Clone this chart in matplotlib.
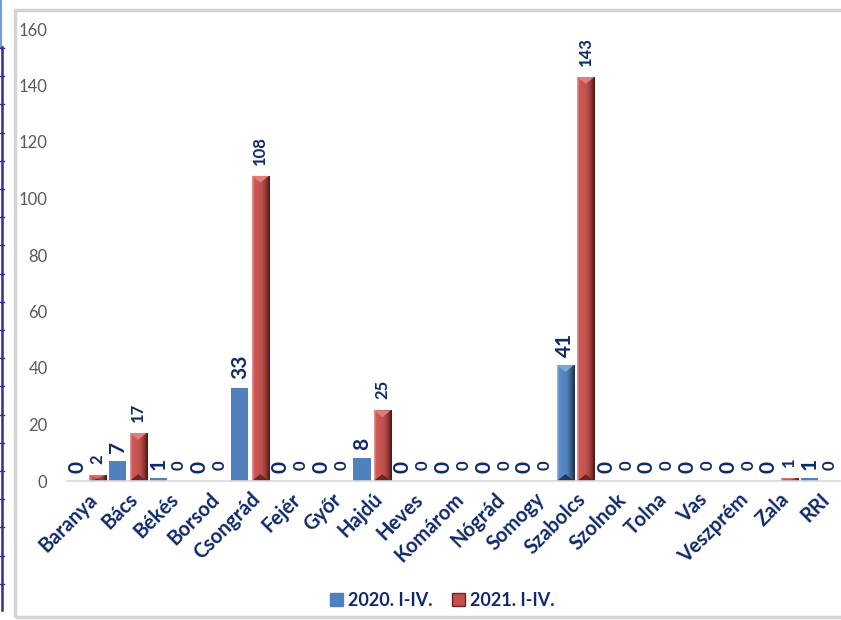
import numpy as np
import matplotlib.pyplot as plt
from matplotlib.colors import LinearSegmentedColormap
from matplotlib.patches import Polygon, Rectangle
from matplotlib.lines import Line2D

plt.rcParams['font.family'] = ['Lato', 'DejaVu Sans']

regions = ['Baranya', 'Bács', 'Békés', 'Borsod', 'Csongrád', 'Fejér', 'Győr',
           'Hajdú', 'Heves', 'Komárom', 'Nógrád', 'Somogy', 'Szabolcs',
           'Szolnok', 'Tolna', 'Vas', 'Veszprém', 'Zala', 'RRI']
y2020 = [0, 7, 1, 0, 33, 0, 0, 8, 0, 0, 0, 0, 41, 0, 0, 0, 0, 0, 1]
y2021 = [2, 17, 0, 0, 108, 0, 0, 25, 0, 0, 0, 0, 143, 0, 0, 0, 0, 1, 0]
series = ['2020. I-IV.', '2021. I-IV.']
yticks = [0, 20, 40, 60, 80, 100, 120, 140, 160]

NAVY = '#0F2A6B'
BLUE = '#4F81BD'
RED = '#C0504D'

red_cm = LinearSegmentedColormap.from_list('red3d', [
    (0, '#E6A09E'), (0.12, '#CD5955'), (0.55, '#C0504D'),
    (0.8, '#8E3533'), (1, '#4A1615')])
blue_cm = LinearSegmentedColormap.from_list('blue3d', [
    (0, '#9DBBE2'), (0.12, '#5A8BC7'), (0.55, '#4F81BD'),
    (0.8, '#35587F'), (1, '#1B2D44')])


def bevel(ax, bar, cmap, light, dark):
    """gradient + top/bottom triangles to fake the excel bevel"""
    h = bar.get_height()
    if h <= 0:
        return
    x0, w = bar.get_x(), bar.get_width()
    grad = np.linspace(0, 1, 64).reshape(1, -1)
    im = ax.imshow(grad, extent=(x0, x0 + w, 0, h), aspect='auto',
                   cmap=cmap, zorder=2.1)
    im.set_clip_path(bar)
    d = min(2.4, h * 0.4)
    ax.add_patch(Polygon([(x0, h), (x0 + w, h), (x0 + w / 2, h - d)],
                         color=light, zorder=2.2, lw=0))
    ax.add_patch(Polygon([(x0, 0), (x0 + w, 0), (x0 + w / 2, d)],
                         color=dark, zorder=2.2, lw=0))


fig = plt.figure(figsize=(8.41, 6.2), dpi=100)
ax = fig.add_axes([67 / 841, 139 / 620, 773 / 841, 452 / 620])

x = np.arange(len(regions))
w = 0.42
b1 = ax.bar(x - 0.25, y2020, w, color=BLUE, zorder=2, label=series[0])
b2 = ax.bar(x + 0.25, y2021, w, color=RED, zorder=2, label=series[1])

for bar in b2:
    bevel(ax, bar, red_cm, '#E07C79', '#6E2422')
# only the Szabolcs column of 2020 has the bevel look
bevel(ax, b1[regions.index('Szabolcs')], blue_cm, '#7FA6D6', '#22395A')

for xi, v in zip(x, y2020):
    ax.annotate(str(v), (xi - 0.25, v), xytext=(0, 6), textcoords='offset points',
                rotation=90, ha='center', va='bottom', fontsize=15,
                fontweight='bold', color=NAVY)
for xi, v in zip(x, y2021):
    ax.annotate(str(v), (xi + 0.25, v), xytext=(0, 8), textcoords='offset points',
                rotation=90, ha='center', va='bottom', fontsize=12,
                fontweight='bold', color=NAVY)

ax.set_xlim(-0.5, len(regions) - 0.5)
ax.set_ylim(0, 160)
ax.set_yticks(yticks)
ax.tick_params(axis='y', length=0, pad=14, labelsize=12, labelcolor='#595959')
ax.set_xticks(x)
ax.set_xticklabels(regions, rotation=45, ha='right', rotation_mode='anchor',
                   fontsize=14.5, fontweight='bold', color=NAVY)
ax.tick_params(axis='x', length=0, pad=6)
for s in ['left', 'top', 'right']:
    ax.spines[s].set_visible(False)
ax.spines['bottom'].set_color('#D9D9D9')
ax.spines['bottom'].set_linewidth(1.2)

h1 = Rectangle((0, 0), 1, 1, color=BLUE)
h2 = Rectangle((0, 0), 1, 1, facecolor=RED, edgecolor='#6E2422', lw=1)
leg = fig.legend([h1, h2], series, loc='center', bbox_to_anchor=(0.526, 0.032),
                 ncol=2, frameon=False, handlelength=0.7, handleheight=0.7,
                 handletextpad=0.3, columnspacing=1.1,
                 prop={'size': 13, 'weight': 'bold'})
for t in leg.get_texts():
    t.set_color(NAVY)

# chart frame and the page border bits on the left
fig.add_artist(Rectangle((15 / 841, 3 / 620), 840 / 841, 607 / 620,
                         transform=fig.transFigure, fill=False,
                         edgecolor='#D4D4D4', lw=2.5))
fig.add_artist(Line2D([1 / 841, 1 / 841], [1, 1 - 47 / 620],
                      transform=fig.transFigure, color='#6FA0E0', lw=1.5))
fig.add_artist(Line2D([2 / 841, 2 / 841], [1 - 47 / 620, 1 - 610 / 620],
                      transform=fig.transFigure, color='#2E2E9A', lw=1.8))
for yy in np.arange(48, 610, 28.2):
    fig.add_artist(Line2D([0, 4 / 841], [1 - yy / 620] * 2,
                          transform=fig.transFigure, color='#2E2E9A', lw=1))

fig.savefig('out.png', dpi=100)
